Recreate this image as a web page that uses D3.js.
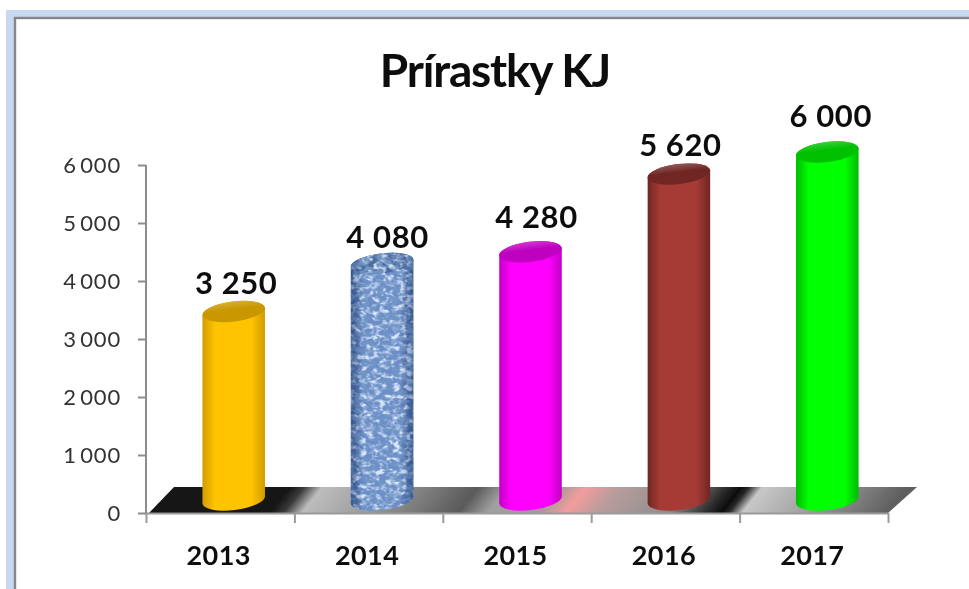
<!DOCTYPE html>
<html><head><meta charset="utf-8">
<script src="https://cdn.jsdelivr.net/npm/d3@7"></script>
<style>html,body{margin:0;padding:0;background:#fff;overflow:hidden}svg{display:block}</style>
</head><body><svg id="c" width="969" height="589"></svg>
<script>
const titleText = "Prírastky KJ";
const years = ["2013","2014","2015","2016","2017"];
const increments = [3250,4080,4280,5620,6000];
const yTicks = [0,1000,2000,3000,4000,5000,6000];
const barEdge = ["#d19c00","#3c5c94","#c400c4","#6e2723","#00bb00"];
const barMid  = ["#ffc400","#6c8dc8","#ff00ff","#a63a35","#00ff00"];
const barTop  = ["#c99700","#4a6a9f","#c000c0","#6f2824","#00c000"];
const floorStops = [[0,"#141414"],[.165,"#141414"],[.185,"#3a3a3a"],[.21,"#bdbdbd"],[.3,"#999"],[.42,"#5a5a5a"],[.46,"#a0a0a0"],[.53,"#a89a9a"],[.565,"#f29c9c"],[.61,"#b89c9c"],[.7,"#8f8f8f"],[.755,"#2c2c2c"],[.775,"#0c0c0c"],[.785,"#2a2a2a"],[.803,"#c8c8c8"],[.87,"#a8a8a8"],[1,"#5e5e5e"]];
const fmt = d => d === 0 ? "0" : d3.format(",")(d).replace(",", "\u2009");
const fmtLabel = d => d3.format(",")(d).replace(","," ");

const svg = d3.select("#c");
const defs = svg.append("defs");
const soft = defs.append("filter").attr("id","soft").attr("x","-5%").attr("y","-5%").attr("width","110%").attr("height","110%");
soft.append("feGaussianBlur").attr("stdDeviation",0.6);

// page frame
svg.append("rect").attr("x",6).attr("y",10).attr("width",970).attr("height",590).attr("fill","#c6d9f1");
svg.append("rect").attr("x",15).attr("y",18).attr("width",970).attr("height",590).attr("fill","#fff").attr("stroke","#868686").attr("stroke-width",2.4);

const plotL=146, plotR=888, y0=513, y6=165, depthX=28, depthY=26;
const x = d3.scaleBand().domain(years).range([plotL,plotR]);
const y = d3.scaleLinear().domain([0,6000]).range([y0,y6]);
const root = svg.append("g").attr("filter","url(#soft)");

// floor
const fg = defs.append("linearGradient").attr("id","floor").attr("gradientUnits","userSpaceOnUse")
  .attr("x1",plotL).attr("y1",y0).attr("x2",plotL+452.4).attr("y2",y0+362);
floorStops.forEach(s=>fg.append("stop").attr("offset",s[0]).attr("stop-color",s[1]));
root.append("path").attr("d",d3.line()([[plotL+3,y0],[plotL+depthX,y0-depthY],[plotR+depthX+1,y0-depthY],[plotR,y0]])+"Z").attr("fill","url(#floor)");

// axes
const bounds = d3.range(years.length+1);
const xTick = d3.scaleLinear().domain([0,years.length]).range([plotL,plotR]);
const gx = root.append("g").attr("transform",`translate(0,${y0})`).call(d3.axisBottom(xTick).tickValues(bounds).tickFormat("").tickSize(10).tickSizeOuter(0));
gx.selectAll("path,line").attr("stroke","#9a9a9a").attr("stroke-width",2);
const gy = root.append("g").attr("transform",`translate(${plotL},0)`).call(d3.axisLeft(y).tickValues(yTicks).tickFormat(fmt).tickSize(8).tickSizeOuter(0).tickPadding(17));
gy.selectAll("path,line").attr("stroke","#8c8c8c").attr("stroke-width",2);
gy.selectAll("text").attr("font-family","Lato").attr("font-size",22).attr("fill","#333").attr("letter-spacing",.8);
gy.select("path").attr("d",`M0,${y0}V${y6}`);

// bars
const rx=31.5, ry=10, tilt=-7, baseDrop=13, shiftX=13.5;
const ex=rx*Math.cos(tilt*Math.PI/180), ey=-rx*Math.sin(tilt*Math.PI/180);
const labelLift=[31,28,37,31,38], labelShift=[16,19,19.5,15,17];

function texture(id,seed,freq,vals){
  const f=defs.append("filter").attr("id",id).attr("x",0).attr("y",0).attr("width","100%").attr("height","100%");
  f.append("feTurbulence").attr("type","fractalNoise").attr("baseFrequency",freq).attr("numOctaves",2).attr("seed",seed);
  f.append("feColorMatrix").attr("type","matrix").attr("values",vals);
  f.append("feGaussianBlur").attr("stdDeviation",0.6);
}
texture("texL",7,"0.15 0.2","0 0 0 0 0.68  0 0 0 0 0.79  0 0 0 0 0.96  3 3 0 0 -2.7");
texture("texD",23,"0.13 0.24","0 0 0 0 0.16  0 0 0 0 0.3  0 0 0 0 0.55  3 3 0 0 -2.75");

const tg=defs.append("linearGradient").attr("id","topFade").attr("x1",0).attr("x2",0).attr("y1",0).attr("y2",1);
tg.append("stop").attr("offset",0).attr("stop-color","#fff").attr("stop-opacity",.22);
tg.append("stop").attr("offset",.4).attr("stop-color","#fff").attr("stop-opacity",0);

const bars = root.selectAll("g.bar").data(years).join("g").attr("class","bar");
bars.each(function(yr,i){
  const g=d3.select(this), v=increments[i];
  const mid=x(yr)+x.bandwidth()/2;
  const cx=mid+shiftX, yb=y0-baseDrop, yt=y(v)-baseDrop;
  const lg=defs.append("linearGradient").attr("id","b"+i).attr("x1",0).attr("x2",1).attr("y1",0).attr("y2",0);
  [[0,barEdge[i]],[.2,barMid[i]],[.78,barMid[i]],[1,barEdge[i]]].forEach(s=>lg.append("stop").attr("offset",s[0]).attr("stop-color",s[1]));
  const body=`M${cx-ex},${yt+ey}V${yb+ey}A${rx},${ry} ${tilt} 0 0 ${cx+ex},${yb-ey}V${yt-ey}A${rx},${ry} ${tilt} 0 0 ${cx-ex},${yt+ey}Z`;
  g.append("path").attr("d",body).attr("fill",`url(#b${i})`);
  const top=g.append("g").attr("transform",`rotate(${tilt} ${cx} ${yt})`);
  top.append("ellipse").attr("cx",cx).attr("cy",yt).attr("rx",rx).attr("ry",ry).attr("fill",barTop[i]);
  top.append("ellipse").attr("cx",cx).attr("cy",yt).attr("rx",rx).attr("ry",ry).attr("fill","url(#topFade)");
  if(yr==="2014"){
    const cp=defs.append("clipPath").attr("id","cl"+i);
    cp.append("path").attr("d",`M${cx-ex},${yt+ey}V${yb+ey}A${rx},${ry} ${tilt} 0 0 ${cx+ex},${yb-ey}V${yt-ey}A${rx},${ry} ${tilt} 0 0 ${cx-ex},${yt+ey}Z`);
    const cg=g.append("g").attr("clip-path",`url(#cl${i})`);
    ["texL","texD"].forEach(f=>cg.append("rect").attr("x",cx-rx).attr("y",yt-ry-6).attr("width",2*rx).attr("height",yb-yt+2*ry+12).attr("filter",`url(#${f})`));
    const edge=defs.append("linearGradient").attr("id","edge").attr("x1",0).attr("x2",1).attr("y1",0).attr("y2",0);
    [[0,.55],[.2,0],[.8,0],[1,.5]].forEach(s=>edge.append("stop").attr("offset",s[0]).attr("stop-color","#2d4a80").attr("stop-opacity",s[1]));
    cg.append("rect").attr("x",cx-rx).attr("y",yt-ry-6).attr("width",2*rx).attr("height",yb-yt+2*ry+12).attr("fill","url(#edge)");
    top.append("ellipse").attr("cx",cx).attr("cy",yt).attr("rx",rx).attr("ry",ry).attr("fill",barTop[i]).attr("opacity",.55);
  }
  g.append("text").attr("x",mid+labelShift[i]).attr("y",y(v)-labelLift[i]).attr("text-anchor","middle")
    .attr("font-family","Lato").attr("font-weight",700).attr("font-size",31).attr("letter-spacing",.6).attr("fill","#111").text(fmtLabel(v));
  root.append("text").attr("x",mid-1.5).attr("y",564.5).attr("text-anchor","middle")
    .attr("font-family","Lato").attr("font-weight",700).attr("font-size",27).attr("letter-spacing",.4).attr("fill","#111").text(yr);
});

root.append("text").attr("x",495).attr("y",87).attr("text-anchor","middle").attr("font-family","Lato").attr("font-weight",700).attr("font-size",46).attr("letter-spacing",-1.2).attr("fill","#111").text(titleText);
</script></body></html>
